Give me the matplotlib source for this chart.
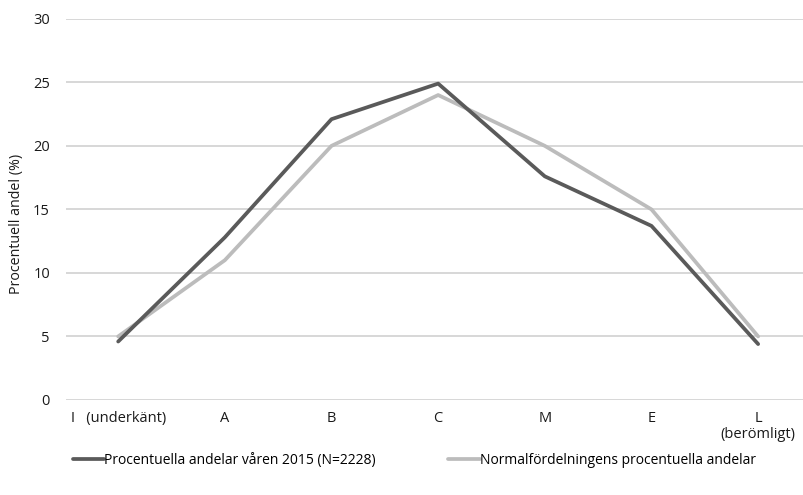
import matplotlib
matplotlib.use("Agg")
import matplotlib.pyplot as plt
import numpy as np

# betyg och andelar (%)
betyg = ["I   (underkänt)", "A", "B", "C", "M", "E", "L\n(berömligt)"]
andel_2015 = [4.6, 12.8, 22.1, 24.9, 17.6, 13.7, 4.4]
andel_normal = [5, 11, 20, 24, 20, 15, 5]
y_ticks = [0, 5, 10, 15, 20, 25, 30]

plt.rcParams['font.family'] = ['Open Sans', 'DejaVu Sans']

fig = plt.figure(figsize=(8.04, 4.95), dpi=100)
ax = fig.add_axes([0.082, 0.192, 0.918, 0.770])

x = np.arange(len(betyg))
ax.plot(x, andel_2015, color="#5a5a5a", lw=2.7, solid_capstyle="round",
        label="Procentuella andelar våren 2015 (N=2228)", zorder=3)
ax.plot(x, andel_normal, color="#bcbcbc", lw=2.7, solid_capstyle="round",
        label="Normalfördelningens procentuella andelar", zorder=2)

ax.set_xlim(-0.49, 6.43)
ax.set_ylim(0, 30)
ax.set_yticks(y_ticks)
ax.set_xticks(x)
ax.set_xticklabels(betyg, fontsize=10.5, va="top", linespacing=1.05)
ax.tick_params(axis="both", length=0, labelsize=10.5, colors="#1a1a1a")
ax.tick_params(axis="x", pad=8)
ax.tick_params(axis="y", pad=11.5)
ax.yaxis.grid(True, color="#d4d4d4", lw=1.3)
ax.set_axisbelow(True)
for s in ax.spines.values():
    s.set_visible(False)

ax.set_ylabel("Procentuell andel (%)", fontsize=10.3, color="#1a1a1a")
ax.yaxis.set_label_coords(-0.057, 0.462)

fig.legend(loc="lower center", bbox_to_anchor=(0.515, 0.03), ncol=2, frameon=False,
           fontsize=10, handlelength=2.3, handletextpad=0.0, columnspacing=5.15)

fig.savefig("out.png", dpi=100)
